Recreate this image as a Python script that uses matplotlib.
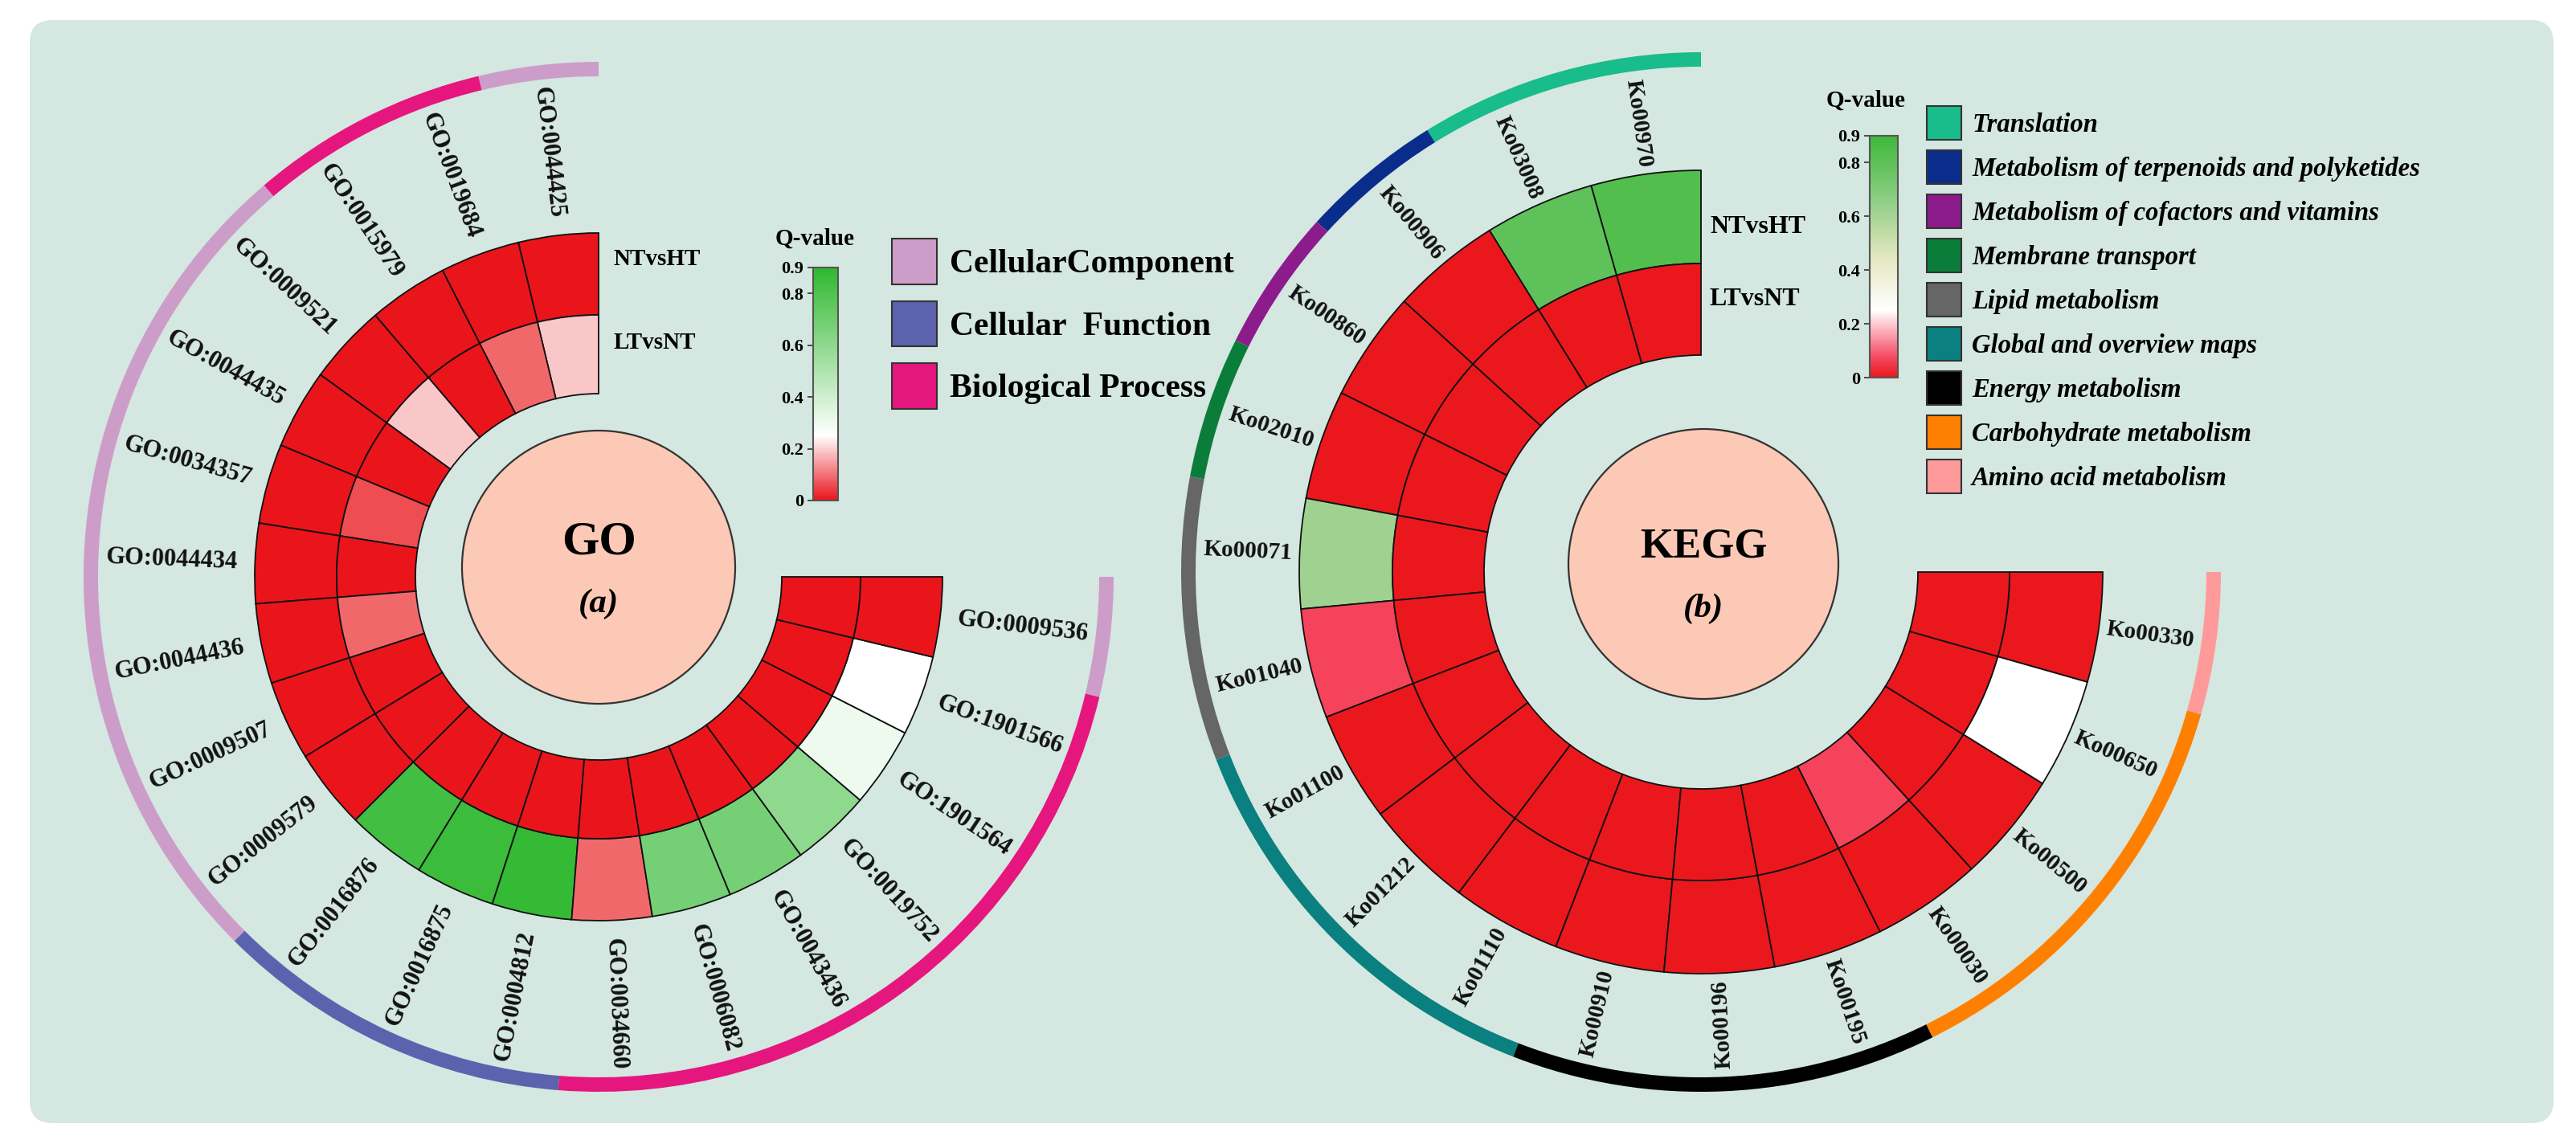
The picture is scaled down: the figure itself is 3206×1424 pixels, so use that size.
import numpy as np
import matplotlib.pyplot as plt
from matplotlib.colors import LinearSegmentedColormap, Normalize
from matplotlib.patches import Patch, FancyBboxPatch, Circle
from matplotlib.cm import ScalarMappable

plt.rcParams["font.family"] = ["Liberation Serif", "DejaVu Serif"]
plt.rcParams["font.weight"] = "bold"

W, H = 3206, 1424

# ---- GO data (listed from the top, going counter-clockwise) ----
go_terms = ["GO:0044425", "GO:0019684", "GO:0015979", "GO:0009521", "GO:0044435",
            "GO:0034357", "GO:0044434", "GO:0044436", "GO:0009507", "GO:0009579",
            "GO:0016876", "GO:0016875", "GO:0004812", "GO:0034660", "GO:0006082",
            "GO:0043436", "GO:0019752", "GO:1901564", "GO:1901566", "GO:0009536"]
go_category = ["CC", "BP", "BP", "CC", "CC", "CC", "CC", "CC", "CC", "CC",
               "CF", "CF", "CF", "BP", "BP", "BP", "BP", "BP", "BP", "CC"]
go_nt_ht = [0, 0, 0, 0, 0, 0, 0, 0, 0, 0,
            0.84, 0.86, 0.88, 0.09, 0.68, 0.68, 0.6, 0.3, 0.25, 0]
go_lt_nt = [0.19, 0.09, 0, 0.19, 0, 0.06, 0, 0.09, 0, 0,
            0, 0, 0, 0, 0, 0, 0, 0, 0, 0]
go_groups = ["CC", "CF", "BP"]
go_group_names = ["CellularComponent", "Cellular  Function", "Biological Process"]
go_group_colors = ["#cd9dc9", "#5b63ae", "#e5177e"]

# ---- KEGG data ----
kegg_terms = ["Ko00970", "Ko03008", "Ko00906", "Ko00860", "Ko02010", "Ko00071",
              "Ko01040", "Ko01100", "Ko01212", "Ko01110", "Ko00910", "Ko00196",
              "Ko00195", "Ko00030", "Ko00500", "Ko00650", "Ko00330"]
kegg_category = ["Translation", "Translation", "Terpenoids", "Cofactors", "Membrane",
                 "Lipid", "Lipid", "Global", "Global", "Global", "Energy", "Energy",
                 "Energy", "Carbohydrate", "Carbohydrate", "Carbohydrate", "Amino"]
kegg_nt_ht = [0.84, 0.8, 0, 0, 0, 0.62, 0.07, 0, 0, 0, 0, 0, 0, 0, 0, 0.25, 0]
kegg_lt_nt = [0, 0, 0, 0, 0, 0, 0, 0, 0, 0, 0, 0, 0, 0.07, 0, 0, 0]
kegg_groups = ["Translation", "Terpenoids", "Cofactors", "Membrane", "Lipid",
               "Global", "Energy", "Carbohydrate", "Amino"]
kegg_group_names = ["Translation", "Metabolism of terpenoids and polyketides",
                    "Metabolism of cofactors and vitamins", "Membrane transport",
                    "Lipid metabolism", "Global and overview maps", "Energy metabolism",
                    "Carbohydrate metabolism", "Amino acid metabolism"]
kegg_group_colors = ["#19bc8b", "#0a2d8c", "#8c1c8c", "#0b7d3a", "#666666",
                     "#0a8080", "#000000", "#ff8000", "#ff9a9a"]

cbar_ticks = [0, 0.2, 0.4, 0.6, 0.8, 0.9]
cbar_labels = ["0", "0.2", "0.4", "0.6", "0.8", "0.9"]

go_cmap = LinearSegmentedColormap.from_list(
    "go", [(0, "#e9151b"), (0.25 / 0.9, "#ffffff"), (1, "#2fb82f")])
kegg_cmap = LinearSegmentedColormap.from_list(
    "kegg", [(0, "#ea181c"), (0.07 / 0.9, "#f5455e"), (0.25 / 0.9, "#ffffff"),
             (0.45 / 0.9, "#e3e7bf"), (0.65 / 0.9, "#93cf88"), (1, "#3db83a")])
norm = Normalize(0, 0.9)

fig = plt.figure(figsize=(W / 100, H / 100), dpi=100)
fig.patch.set_facecolor("white")

# background axes in pixel units
bg = fig.add_axes([0, 0, 1, 1], zorder=-1)
bg.set_xlim(0, W)
bg.set_ylim(H, 0)
bg.axis("off")
bg.add_patch(FancyBboxPatch((37, 25), 3141, 1373, boxstyle="round,pad=0,rounding_size=28",
                            fc="#d4e7e0", ec="none"))


def ring_chart(cx, cy, terms, cats, groups, colors, outer_vals, inner_vals, cmap,
               r_in, r_mid, r_out, r_arc, r_lab, lab_size, flip_at):
    r_lim = 700
    ax = fig.add_axes([(cx - r_lim) / W, 1 - (cy + r_lim) / H, 2 * r_lim / W, 2 * r_lim / H],
                      projection="polar")
    ax.set_theta_zero_location("E")
    ax.patch.set_alpha(0)
    n = len(terms)
    w = np.deg2rad(270 / n)
    theta = np.deg2rad(90) + (np.arange(n) + 0.5) * w
    ax.bar(theta, r_out - r_mid, width=w, bottom=r_mid, color=cmap(norm(outer_vals)),
           edgecolor="#111111", linewidth=1.3)
    ax.bar(theta, r_mid - r_in, width=w, bottom=r_in, color=cmap(norm(inner_vals)),
           edgecolor="#111111", linewidth=1.3)
    # category arcs
    cats = np.array(cats)
    for g, c in zip(groups, colors):
        idx = np.where(cats == g)[0]
        runs = np.split(idx, np.where(np.diff(idx) > 1)[0] + 1)
        for run in runs:
            if len(run) == 0:
                continue
            ax.bar(theta[run].mean(), 18, width=w * len(run), bottom=r_arc - 9,
                   color=c, linewidth=0)
    for t, lab in zip(theta, terms):
        ang = np.rad2deg(t) % 360
        if 90 < ang < flip_at:
            rot, ha = ang - 180, "right"
        else:
            rot, ha = ang, "left"
        ax.text(t, r_lab, lab, rotation=rot, rotation_mode="anchor", ha=ha,
                va="center", fontsize=lab_size, fontweight="bold", color="#111111")
    ax.set_ylim(0, r_lim)
    ax.axis("off")
    return ax


ring_chart(745, 718, go_terms, go_category, go_groups, go_group_colors,
           go_nt_ht, go_lt_nt, go_cmap, 228, 326, 428, 632, 450, 22, 271)
ring_chart(2117, 712, kegg_terms, kegg_category, kegg_groups, kegg_group_colors,
           kegg_nt_ht, kegg_lt_nt, kegg_cmap, 270, 384, 500, 638, 509, 21, 273.5)

# center discs and titles
bg.add_patch(Circle((745, 706), 170, fc="#fdc9b7", ec="#333333", lw=1.6))
bg.add_patch(Circle((2120, 702), 168, fc="#fdc9b7", ec="#333333", lw=1.6))
bg.text(745, 676, "GO", ha="center", va="center", fontsize=43, fontweight="bold")
bg.text(745, 752, "(a)", ha="center", va="center", fontsize=31, fontweight="bold",
        style="italic")
bg.text(2120, 680, "KEGG", ha="center", va="center", fontsize=38, fontweight="bold")
bg.text(2120, 758, "(b)", ha="center", va="center", fontsize=31, fontweight="bold",
        style="italic")

# ring names
for x, y1, y2, fs in [(763, 322, 427, 21), (2128, 283, 373, 23)]:
    bg.text(x, y1, "NTvsHT", ha="left", va="center", fontsize=fs, fontweight="bold")
    bg.text(x, y2, "LTvsNT", ha="left", va="center", fontsize=fs, fontweight="bold")

# colorbars
for (x0, x1, y0, y1, cmap, tx, ty) in [(1012, 1043, 333, 623, go_cmap, 1014, 297),
                                         (2327, 2362, 169, 470, kegg_cmap, 2322, 125)]:
    cax = fig.add_axes([x0 / W, 1 - y1 / H, (x1 - x0) / W, (y1 - y0) / H])
    cb = fig.colorbar(ScalarMappable(norm=norm, cmap=cmap), cax=cax, ticks=cbar_ticks)
    cax.yaxis.set_ticks_position("left")
    cb.set_ticklabels(cbar_labels)
    cax.tick_params(labelsize=16, length=5, width=1.2, color="#333333")
    for lab in cax.get_yticklabels():
        lab.set_fontweight("bold")
    cb.outline.set_edgecolor("#555555")
    cb.outline.set_linewidth(1.5)
    bg.text(tx, ty, "Q-value", ha="center", va="center", fontsize=21, fontweight="bold")

# legends
go_handles = [Patch(facecolor=c, edgecolor="#333333", linewidth=1.5, label=n)
              for n, c in zip(go_group_names, go_group_colors)]
fig.legend(handles=go_handles, loc="upper left", bbox_to_anchor=(1110 / W, 1 - 297 / H),
           frameon=False, prop=dict(family="Liberation Serif", weight="bold", size=30),
           handlelength=1.34, handleheight=1.72, labelspacing=0.5, handletextpad=0.4,
           borderpad=0, borderaxespad=0)
kegg_handles = [Patch(facecolor=c, edgecolor="#333333", linewidth=1.5, label=n)
                for n, c in zip(kegg_group_names, kegg_group_colors)]
fig.legend(handles=kegg_handles, loc="upper left", bbox_to_anchor=(2398 / W, 1 - 132 / H),
           frameon=False,
           prop=dict(family="Liberation Serif", weight="bold", style="italic", size=23.5),
           handlelength=1.32, handleheight=1.6, labelspacing=0.4, handletextpad=0.4,
           borderpad=0, borderaxespad=0)

fig.savefig("out.png", dpi=100, facecolor="white")
